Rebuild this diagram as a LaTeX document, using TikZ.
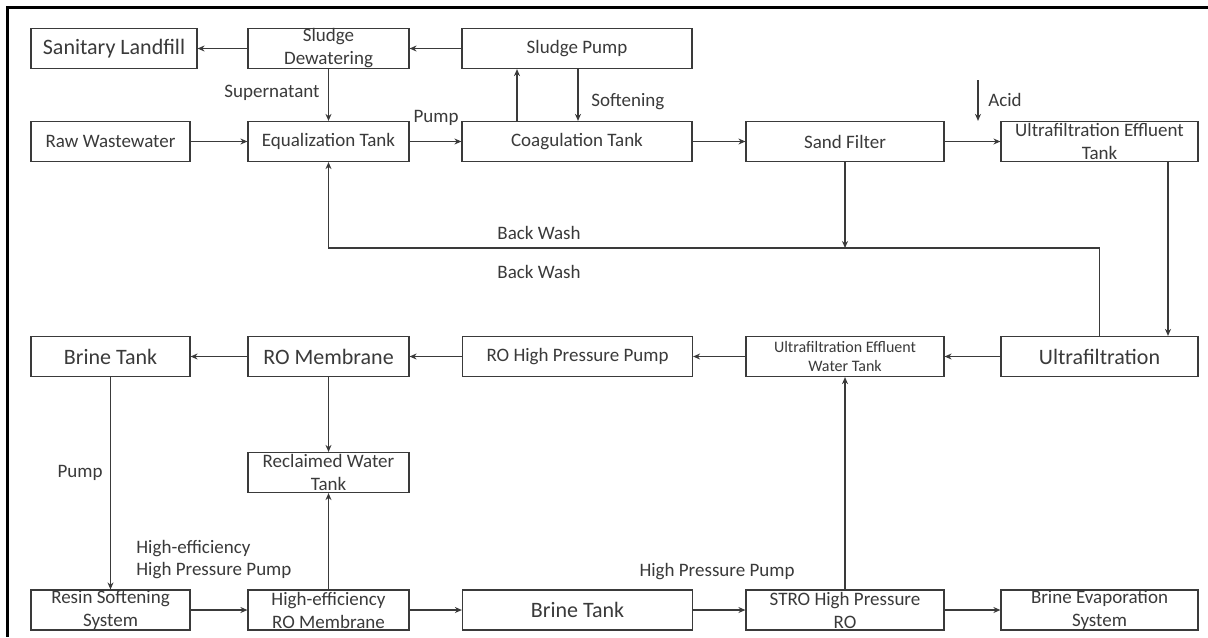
\documentclass[tikz,border=0pt]{standalone}
\usepackage{fontspec}
\setmainfont{Carlito}
\usetikzlibrary{arrows.meta}
\definecolor{inkgray}{RGB}{58,58,58}
\tikzset{
  box/.style={draw=inkgray, line width=0.6pt, minimum width=#1, minimum height=20pt,
    inner sep=0pt, align=center, text=inkgray, font=\fontsize{9.5}{11.5}\selectfont},
  bigbox/.style={box=#1, font=\fontsize{11}{13}\selectfont},
  smallbox/.style={box=#1, font=\fontsize{8}{9.5}\selectfont},
  arr/.style={draw=inkgray, line width=0.6pt, -{Stealth[length=3.5pt,width=3pt]}},
  lbl/.style={text=inkgray, font=\fontsize{9.5}{11}\selectfont, inner sep=0pt},
}
\begin{document}
\begin{tikzpicture}[x=0.5pt, y=-0.5pt]
  \fill[white] (0,0) rectangle (1208,637);
  \useasboundingbox (0,0) rectangle (1208,637);
  \draw[line width=1.5pt] (1208,7) -- (7,7) -- (7,637);
  % top rows
  \node[bigbox=83pt] (land) at (114,48.5) {Sanitary Landfill};
  \node[box=80.5pt] (dew) at (328.5,48.5) {Sludge\\Dewatering};
  \node[box=115pt] (spump) at (577,48.5) {Sludge Pump};
  \node[box=79.5pt] (raw) at (110.5,141.5) {Raw Wastewater};
  \node[box=80.5pt] (eq) at (328.5,141.5) {Equalization Tank};
  \node[box=115pt] (coag) at (577,141.5) {Coagulation Tank};
  \node[box=99pt] (sand) at (845,141.5) {Sand Filter};
  \node[box=98.5pt] (uft) at (1099.5,141.5) {Ultrafiltration Effluent\\Tank};
  % lower rows
  \node[bigbox=79.5pt] (brine1) at (110.5,356.5) {Brine Tank};
  \node[bigbox=80.5pt] (rom) at (328.5,356.5) {RO Membrane};
  \node[box=115pt] (rohp) at (577.5,356.5) {RO High Pressure Pump};
  \node[smallbox=99pt] (ufw) at (845,356.5) {Ultrafiltration Effluent\\Water Tank};
  \node[bigbox=98.5pt] (uf) at (1099.5,356.5) {Ultrafiltration};
  \node[box=80.5pt] (recl) at (328.5,472.5) {Reclaimed Water\\Tank};
  \node[box=79.5pt] (resin) at (110.5,610) {Resin Softening\\System};
  \node[box=80.5pt] (hero) at (328.5,610) {High-efficiency\\RO Membrane};
  \node[bigbox=115pt] (brine2) at (577.5,610) {Brine Tank};
  \node[box=99pt] (stro) at (845,610) {STRO High Pressure\\RO};
  \node[box=98.5pt] (evap) at (1099.5,610) {Brine Evaporation\\System};
  % labels
  \node[lbl] (supl) at (272,93) {Supernatant};
  \node[lbl] (pumpl) at (436,118) {Pump};
  \node[lbl, anchor=west] (softl) at (591,102) {Softening};
  \node[lbl] (acidl) at (1005,100) {Acid};
  \node[lbl] (bwa) at (539,233) {Back Wash};
  \node[lbl] (bwb) at (539,272) {Back Wash};
  \node[lbl] (pumpb) at (80,473) {Pump};
  \node[lbl, anchor=west, align=left] (hepl) at (136,560) {High-efficiency\\High Pressure Pump};
  \node[lbl] (hpl) at (717,572) {High Pressure Pump};
  \coordinate (acid) at (978,80);
  \coordinate (bwl) at (328.5,248);
  % connectors
  \draw[arr] (dew.west) -- (land.east);
  \draw[arr] (spump.west) -- (dew.east);
  \draw[arr] (dew.south) -- (eq.north);
  \draw[arr] (raw.east) -- (eq.west);
  \draw[arr] (eq.east) -- (coag.west);
  \draw[arr] ([xshift=-30pt]coag.north) -- ([xshift=-30pt]spump.south);
  \draw[arr] ([xshift=0.5pt]spump.south) -- ([xshift=0.5pt]coag.north);
  \draw[arr] (coag.east) -- (sand.west);
  \draw[arr] (sand.east) -- (uft.west);
  \draw[arr] (acid) -- (acid |- uft.north);
  \draw[arr] (sand.south) -- (sand.south |- bwl);
  \draw[arr] (uf.north) |- (bwl) -- (eq.south);
  \draw[arr] ([xshift=34.25pt]uft.south) -- ([xshift=34.25pt]uf.north);
  \draw[arr] (uf.west) -- (ufw.east);
  \draw[arr] (ufw.west) -- (rohp.east);
  \draw[arr] (rohp.west) -- (rom.east);
  \draw[arr] (rom.west) -- (brine1.east);
  \draw[arr] (rom.south) -- (recl.north);
  \draw[arr] (brine1.south) -- (resin.north);
  \draw[arr] (resin.east) -- (hero.west);
  \draw[arr] (hero.north) -- (recl.south);
  \draw[arr] (hero.east) -- (brine2.west);
  \draw[arr] (brine2.east) -- (stro.west);
  \draw[arr] (stro.east) -- (evap.west);
  \draw[arr] (stro.north) -- (ufw.south);
\end{tikzpicture}
\end{document}
